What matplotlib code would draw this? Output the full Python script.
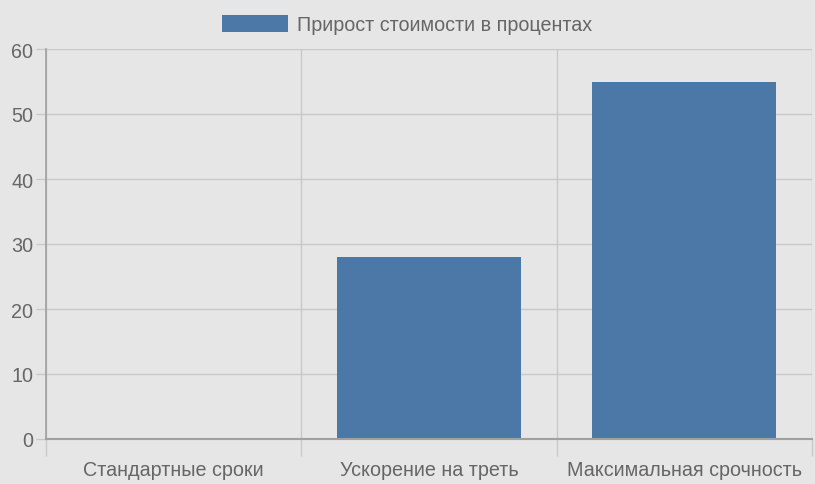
import matplotlib.pyplot as plt
from matplotlib.patches import Patch

categories = ["Стандартные сроки", "Ускорение на треть", "Максимальная срочность"]
values = [0, 28, 55]
series_label = "Прирост стоимости в процентах"
y_ticks = [0, 10, 20, 30, 40, 50, 60]

plt.rcParams["font.family"] = ["Liberation Sans", "DejaVu Sans"]

W, H = 815, 485
fig = plt.figure(figsize=(W / 100, H / 100), dpi=100, facecolor="#e6e6e6")
ax = fig.add_axes([46 / W, 1 - 440 / H, (812 - 46) / W, (440 - 50) / H])
ax.set_facecolor("#e6e6e6")

x = list(range(len(categories)))
ax.bar(x, values, width=0.72, color="#4c78a8", zorder=3)

ax.set_xlim(-0.5, len(categories) - 0.5)
ax.set_ylim(0, 60)
ax.set_yticks(y_ticks)
ax.set_xticks(x)
ax.set_xticklabels(categories)
ax.set_xticks([i + 0.5 for i in range(-1, len(categories))], minor=True)

grid_c = "#c8c8c8"
ax.grid(True, axis="y", color=grid_c, linewidth=1, zorder=0)
ax.grid(True, axis="x", which="minor", color=grid_c, linewidth=1, zorder=0)
ax.tick_params(axis="x", which="major", length=0, pad=15, labelsize=14.2, labelcolor="#666666")
ax.tick_params(axis="x", which="minor", length=12, color=grid_c, width=1)
ax.tick_params(axis="y", length=7, color=grid_c, width=1, pad=2, labelsize=14.2, labelcolor="#666666")

for side in ["top", "right"]:
    ax.spines[side].set_visible(False)
ax.spines["left"].set_color("#a0a0a0")
ax.spines["bottom"].set_color("#a0a0a0")
ax.spines["left"].set_linewidth(1.2)
ax.spines["bottom"].set_linewidth(1.5)
ax.spines["left"].set_zorder(4)
ax.spines["bottom"].set_zorder(4)

handle = Patch(facecolor="#4c78a8", edgecolor="none")
fig.legend([handle], [series_label], loc="upper center", bbox_to_anchor=(0.5, 1.0),
           frameon=False, fontsize=14.2, labelcolor="#666666",
           handlelength=3.3, handleheight=1.0, handletextpad=0.5,
           borderaxespad=0.4)

fig.savefig("out.png", dpi=100, facecolor=fig.get_facecolor())
